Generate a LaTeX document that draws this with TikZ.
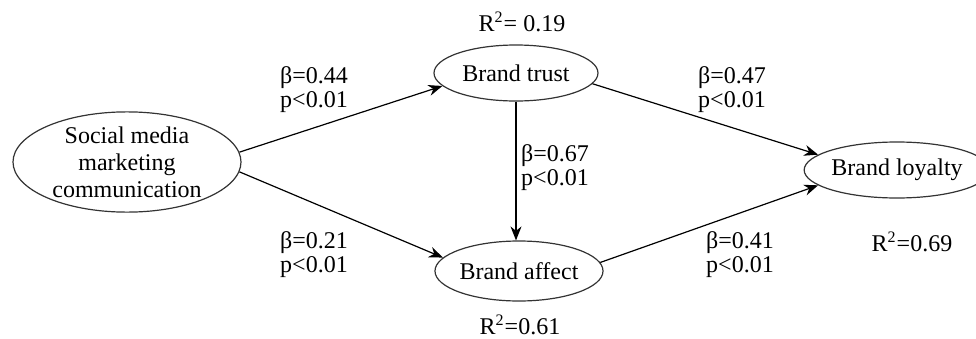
\documentclass[tikz,border=0pt]{standalone}
\usepackage{fontspec}
\setmainfont{Liberation Serif}
\usetikzlibrary{shapes.geometric,arrows.meta}
\begin{document}
\begin{tikzpicture}[x=0.5pt,y=-0.5pt,
  construct/.style={ellipse,draw=black!80,line width=0.6pt,inner sep=0pt,
    align=center,font=\fontsize{12}{13.5}\selectfont},
  pathline/.style={-{Stealth[length=7pt,width=5.5pt]},line width=0.6pt},
  coef/.style={align=center,inner sep=0pt,font=\fontsize{12}{12}\selectfont},
]
\useasboundingbox (0,0) rectangle (976,338);

% constructs
\node[construct,minimum width=114pt,minimum height=46pt] (smm) at (127,162)
  {Social media\\marketing\\communication};
\node[construct,minimum width=82pt,minimum height=28pt] (trust) at (516,73) {Brand trust};
\node[construct,minimum width=83pt,minimum height=30pt] (affect) at (519,271) {Brand affect};
\node[construct,minimum width=78pt,minimum height=28pt] (loyal) at (897,170) {Brand loyalty};

% paths
\draw[pathline] (smm.5) -- (trust.190);
\draw[pathline] (smm.-5) -- (affect.170);
\draw[pathline] (trust.-8) -- (loyal.169);
\draw[pathline] (affect.6) -- (loyal.191);
\draw[pathline] (trust.south) -- (trust.south |- affect.north);

% path coefficients
\node[coef] (c1) at (314,90) {β=0.44\\p<0.01};
\node[coef] (c2) at (732,90) {β=0.47\\p<0.01};
\node[coef] (c3) at (555,168) {β=0.67\\p<0.01};
\node[coef] (c4) at (314,255) {β=0.21\\p<0.01};
\node[coef] (c5) at (740,255) {β=0.41\\p<0.01};

% explained variance
\node[coef] (r1) at (522,22) {R\textsuperscript{2}= 0.19};
\node[coef] (r2) at (912,242) {R\textsuperscript{2}=0.69};
\node[coef] (r3) at (520,325) {R\textsuperscript{2}=0.61};
\end{tikzpicture}
\end{document}
